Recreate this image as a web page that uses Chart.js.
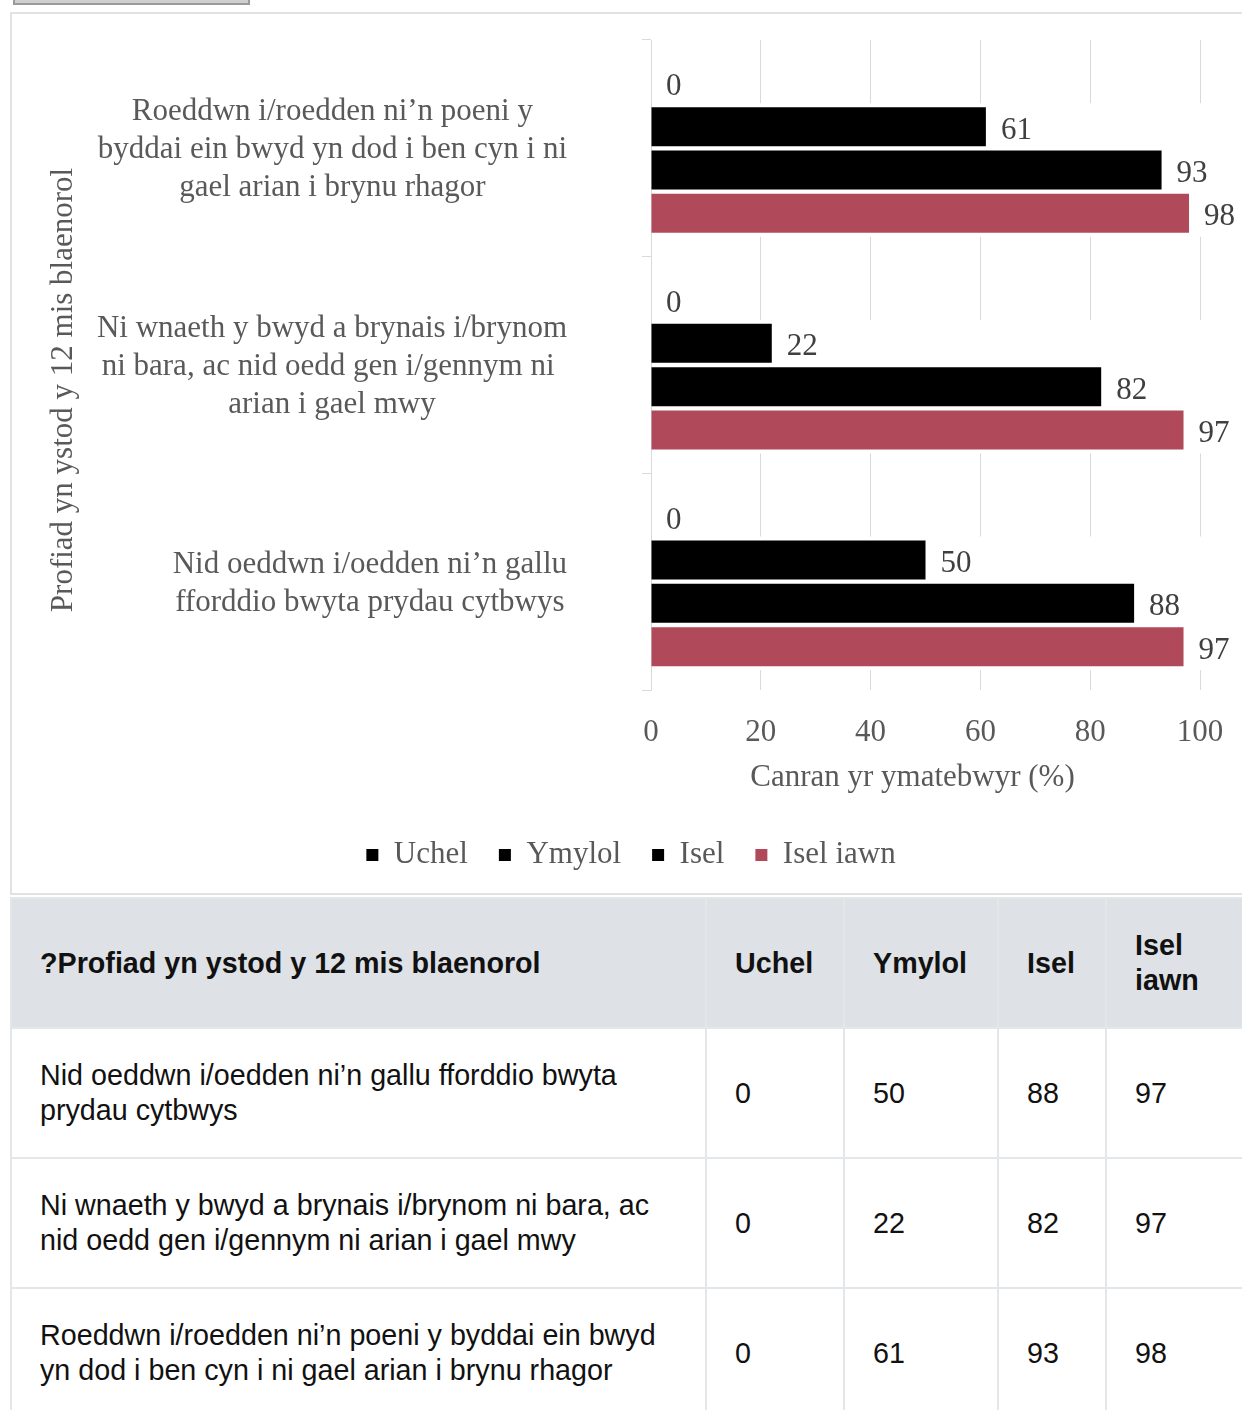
<!DOCTYPE html>
<html>
<head>
<meta charset="utf-8">
<script src="https://cdn.jsdelivr.net/npm/chart.js@4.4.1/dist/chart.umd.min.js"></script>
<style>
  html, body { margin: 0; padding: 0; background: #fff; }
  body { width: 1242px; height: 1410px; overflow: hidden; position: relative; }
  .btn { position: absolute; left: 13px; top: -22px; width: 233px; height: 23px; background: #cfcfcf; border: 2px solid #9a9a9a; }
  .frame { position: absolute; left: 10px; top: 12px; width: 1258px; height: 879px; border: 2px solid #e2e2e2; border-right: none; }
  .frame canvas { position: absolute; left: 0; top: 0; }
  table { position: absolute; left: 10px; top: 897px; border-collapse: collapse; table-layout: fixed; width: 1240px;
          font-family: "Liberation Sans", Arial, sans-serif; font-size: 28.7px; line-height: 35px; color: #111; }
  th, td { border: 2px solid #e4e7ea; padding: 0 12px 0 28px; text-align: left; vertical-align: middle; }
  th { background: #dee2e6; font-weight: bold; }
  tr { height: 130px; }
</style>
</head>
<body>
<div class="btn"></div>
<div class="frame"><canvas id="c" width="1236" height="879"></canvas></div>
<table id="tbl"></table>
<script>
// ---- data ----
const categoriesFull = [
  "Nid oeddwn i/oedden ni’n gallu fforddio bwyta prydau cytbwys",
  "Ni wnaeth y bwyd a brynais i/brynom ni bara, ac nid oedd gen i/gennym ni arian i gael mwy",
  "Roeddwn i/roedden ni’n poeni y byddai ein bwyd yn dod i ben cyn i ni gael arian i brynu rhagor"
];
const categoryLines = [
  ["Nid oeddwn i/oedden ni’n gallu", "fforddio bwyta prydau cytbwys"],
  ["Ni wnaeth y bwyd a brynais i/brynom", "ni bara, ac nid oedd gen i/gennym ni ", "arian i gael mwy"],
  ["Roeddwn i/roedden ni’n poeni y", "byddai ein bwyd yn dod i ben cyn i ni", "gael arian i brynu rhagor"]
];
const seriesNames = ["Uchel", "Ymylol", "Isel", "Isel iawn"];
const uchel    = [0, 0, 0];
const ymylol   = [50, 22, 61];
const isel     = [88, 82, 93];
const iselIawn = [97, 97, 98];
const xTickValues = [0, 20, 40, 60, 80, 100];
const xTitle = "Canran yr ymatebwyr (%)";
const yTitle = "Profiad yn ystod y 12 mis blaenorol";
const tableHeadFirst = "?Profiad yn ystod y 12 mis blaenorol";

// ---- styles ----
const seriesColors = ["#000000", "#000000", "#000000", "#b04a5a"];
const serif = '"Liberation Serif", "Times New Roman", serif';
const textGrey = "#595959";
const labelGrey = "#404040";
const gridGrey = "#d9d9d9";
const FS = 31;
const LINE_H = 38;
const TEXT_DY = 4;

// ---- table ----
(function buildTable() {
  const tbl = document.getElementById("tbl");
  const cg = document.createElement("colgroup");
  [695, 138, 154, 108, 145].forEach(w => { const c = document.createElement("col"); c.style.width = w + "px"; cg.appendChild(c); });
  tbl.appendChild(cg);
  const thead = document.createElement("thead");
  const hr = document.createElement("tr");
  [tableHeadFirst].concat(seriesNames).forEach(t => { const th = document.createElement("th"); th.textContent = t; hr.appendChild(th); });
  thead.appendChild(hr); tbl.appendChild(thead);
  const tbody = document.createElement("tbody");
  const series = [uchel, ymylol, isel, iselIawn];
  categoriesFull.forEach((cat, i) => {
    const tr = document.createElement("tr");
    const td0 = document.createElement("td"); td0.textContent = cat; tr.appendChild(td0);
    series.forEach(s => { const td = document.createElement("td"); td.textContent = s[i]; tr.appendChild(td); });
    tbody.appendChild(tr);
  });
  tbl.appendChild(tbody);
})();

// ---- plugins ----
const bandMask = {
  id: "bandMask",
  beforeDatasetsDraw(chart) {
    const { ctx, chartArea } = chart;
    const m1 = chart.getDatasetMeta(1).data, m3 = chart.getDatasetMeta(3).data;
    ctx.save();
    ctx.fillStyle = "#ffffff";
    m1.forEach((el1, i) => {
      const el3 = m3[i];
      const top = Math.min(el1.y - el1.height / 2, el3.y - el3.height / 2) - 4;
      const bot = Math.max(el1.y + el1.height / 2, el3.y + el3.height / 2) + 4;
      ctx.fillRect(chartArea.left + 1, top, chartArea.right - chartArea.left + 2, bot - top);
    });
    ctx.restore();
  }
};

const valueLabels = {
  id: "valueLabels",
  afterDatasetsDraw(chart) {
    const { ctx } = chart;
    ctx.save();
    ctx.font = FS + "px " + serif;
    ctx.fillStyle = labelGrey;
    ctx.textAlign = "left";
    ctx.textBaseline = "middle";
    chart.data.datasets.forEach((ds, d) => {
      chart.getDatasetMeta(d).data.forEach((el, i) => {
        ctx.fillText(String(ds.data[i]), el.x + 15, el.y + TEXT_DY);
      });
    });
    ctx.restore();
  }
};

const axisText = {
  id: "axisText",
  afterDraw(chart) {
    const { ctx, chartArea, scales } = chart;
    const yS = scales.y;
    ctx.save();
    ctx.font = FS + "px " + serif;
    ctx.fillStyle = textGrey;
    ctx.textBaseline = "middle";
    ctx.textAlign = "center";
    const rightEdge = chartArea.left - 84;
    yS.ticks.forEach((t, i) => {
      const lines = categoryLines[i];
      const py = yS.getPixelForTick(i) + 2;
      const w = Math.max.apply(null, lines.map(l => ctx.measureText(l).width));
      const cx = rightEdge - w / 2;
      lines.forEach((l, j) => ctx.fillText(l, cx, py + (j - (lines.length - 1) / 2) * LINE_H));
    });
    // x title
    ctx.fillText(xTitle, (chartArea.left + chartArea.right) / 2 - 13, chartArea.bottom + 88);
    // y title
    ctx.translate(chartArea.left - 587, (chartArea.top + chartArea.bottom) / 2 + 25);
    ctx.rotate(-Math.PI / 2);
    ctx.fillText(yTitle, 0, 0);
    ctx.restore();
  }
};

// ---- chart ----
const seriesData = [uchel, ymylol, isel, iselIawn];
new Chart(document.getElementById("c"), {
  type: "bar",
  data: {
    labels: categoriesFull,
    datasets: seriesNames.map((n, k) => ({
      label: n,
      data: seriesData[k],
      backgroundColor: seriesColors[k],
      borderWidth: 0,
      categoryPercentage: 0.8,
      barPercentage: 0.9
    }))
  },
  options: {
    indexAxis: "y",
    responsive: false,
    animation: false,
    layout: { padding: { left: 50, top: 26, right: 48, bottom: 12.5 } },
    plugins: {
      legend: {
        position: "bottom",
        labels: { font: { family: serif, size: FS }, color: textGrey, boxWidth: 12, boxHeight: 12, padding: 31 }
      },
      tooltip: { enabled: false }
    },
    scales: {
      x: {
        min: xTickValues[0], max: xTickValues[xTickValues.length - 1],
        afterBuildTicks(s) { s.ticks = xTickValues.map(v => ({ value: v })); },
        ticks: { font: { family: serif, size: FS }, color: textGrey, padding: 24 },
        grid: { color: gridGrey, drawTicks: false },
        border: { display: false },
        afterFit(s) { s.height = 118.5; }
      },
      y: {
        reverse: true,
        ticks: { display: false },
        grid: { color: gridGrey, drawOnChartArea: false, tickLength: 9, offset: true },
        border: { display: true, color: gridGrey },
        afterFit(s) { s.width = 589; }
      }
    }
  },
  plugins: [bandMask, valueLabels, axisText]
});
</script>
</body>
</html>
